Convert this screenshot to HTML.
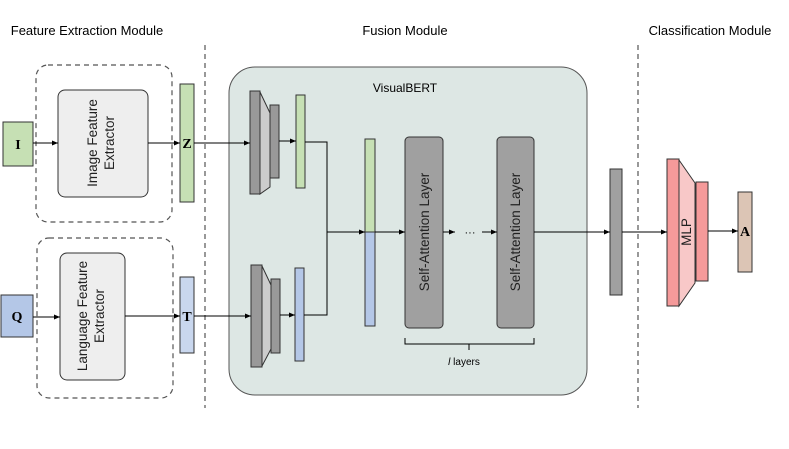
<!DOCTYPE html>
<html><head><style>
body{margin:0;background:#fff}
svg text{font-family:"Liberation Sans",sans-serif}
</style></head><body>
<svg width="789" height="444" viewBox="0 0 789 444" xmlns="http://www.w3.org/2000/svg">
<defs><marker id="a" markerWidth="6" markerHeight="6" refX="6" refY="3" orient="auto" markerUnits="userSpaceOnUse"><path d="M0,0.5L6,3L0,5.5z" fill="#000"/></marker></defs>
<g font-size="13" fill="#000">
<text x="87" y="35" text-anchor="middle">Feature Extraction Module</text>
<text x="405" y="35" text-anchor="middle">Fusion Module</text>
<text x="710" y="35" text-anchor="middle">Classification Module</text>
</g>
<g stroke="#555" stroke-dasharray="5,4" fill="none" stroke-width="1.2">
<line x1="205" y1="45" x2="205" y2="408"/>
<line x1="638" y1="45" x2="638" y2="408"/>
<rect x="36" y="65" width="136" height="157" rx="12"/>
<rect x="37" y="238" width="136" height="160" rx="12"/>
</g>
<rect x="229" y="67" width="358" height="328" rx="26" fill="#dde7e4" stroke="#555"/>
<text x="405" y="92" font-size="12" text-anchor="middle">VisualBERT</text>
<g stroke="#333" stroke-width="1">
<rect x="3" y="122" width="30" height="44" fill="#c6e0b4"/>
<rect x="1" y="295" width="32" height="42" fill="#b4c7e7"/>
<rect x="58" y="90" width="90" height="107" rx="7" fill="#eee"/>
<rect x="60" y="253" width="65" height="127" rx="7" fill="#eee"/>
<rect x="180" y="84" width="14" height="118" fill="#c6e0b4"/>
<rect x="180" y="277" width="14" height="76" fill="#c9d7ee"/>
<polygon points="260,92 270,113 270,187 260,194" fill="#ccc"/>
<rect x="250" y="91" width="10" height="103" fill="#999"/>
<rect x="270" y="105" width="9" height="73" fill="#999"/>
<rect x="296" y="95" width="9" height="93" fill="#c6e0b4"/>
<polygon points="262,266 271,285 271,349 262,366" fill="#ccc"/>
<rect x="251" y="265" width="11" height="102" fill="#999"/>
<rect x="271" y="279" width="9" height="74" fill="#999"/>
<rect x="295" y="268" width="9" height="93" fill="#b4c7e7"/>
<rect x="365" y="139" width="10" height="93" fill="#c6e0b4"/>
<rect x="365" y="232" width="10" height="94" fill="#b4c7e7"/>
<rect x="405" y="137" width="38" height="191" rx="4" fill="#a0a0a0"/>
<rect x="497" y="137" width="37" height="191" rx="4" fill="#a0a0a0"/>
<rect x="610" y="169" width="12" height="126" fill="#a0a0a0"/>
<polygon points="679,160 695,183 695,283 679,306" fill="#f8c8c8"/>
<rect x="667" y="159" width="12" height="147" fill="#f59a9a"/>
<rect x="696" y="182" width="12" height="99" fill="#f59a9a"/>
<rect x="738" y="192" width="14" height="80" fill="#dcc5b5"/>
</g>
<g stroke="#000" fill="none" stroke-width="1">
<line x1="33" y1="143" x2="58" y2="143" marker-end="url(#a)"/>
<line x1="148" y1="143" x2="180" y2="143" marker-end="url(#a)"/>
<line x1="194" y1="143" x2="250" y2="143" marker-end="url(#a)"/>
<line x1="279" y1="141" x2="296" y2="141" marker-end="url(#a)"/>
<line x1="33" y1="317" x2="60" y2="317" marker-end="url(#a)"/>
<line x1="125" y1="316" x2="180" y2="316" marker-end="url(#a)"/>
<line x1="194" y1="316" x2="251" y2="316" marker-end="url(#a)"/>
<line x1="280" y1="315" x2="295" y2="315" marker-end="url(#a)"/>
<polyline points="305,142 327,142 327,315 304,315"/>
<line x1="327" y1="232" x2="365" y2="232" marker-end="url(#a)"/>
<line x1="375" y1="232" x2="405" y2="232" marker-end="url(#a)"/>
<line x1="443" y1="232" x2="455" y2="232" marker-end="url(#a)"/>
<line x1="482" y1="232" x2="497" y2="232" marker-end="url(#a)"/>
<line x1="534" y1="232" x2="610" y2="232" marker-end="url(#a)"/>
<line x1="622" y1="232" x2="667" y2="232" marker-end="url(#a)"/>
<line x1="708" y1="231" x2="738" y2="231" marker-end="url(#a)"/>
<path d="M405,338 V344 H469 V350 M469,344 H534 V338"/>
</g>
<text x="470" y="236" font-size="11" text-anchor="middle">···</text>
<text x="464" y="365" font-size="10" text-anchor="middle"><tspan font-style="italic">l</tspan> layers</text>
<g font-weight="bold" font-size="14" text-anchor="middle">
<text x="18" y="149" style="font-family:'Liberation Serif',serif">I</text>
<text x="17" y="321" style="font-family:'Liberation Serif',serif">Q</text>
<text x="187" y="148" style="font-family:'Liberation Serif',serif">Z</text>
<text x="187" y="321" style="font-family:'Liberation Serif',serif">T</text>
<text x="745" y="236" style="font-family:'Liberation Serif',serif">A</text>
</g>
<g font-size="13.5" text-anchor="middle" fill="#222">
<text transform="translate(97,143) rotate(-90)">Image Feature</text>
<text transform="translate(114,143) rotate(-90)">Extractor</text>
<text transform="translate(87,316) rotate(-90)">Language Feature</text>
<text transform="translate(104,316) rotate(-90)">Extractor</text>
<text transform="translate(429,232) rotate(-90)">Self-Attention Layer</text>
<text transform="translate(520,232) rotate(-90)">Self-Attention Layer</text>
<text transform="translate(691,232) rotate(-90)">MLP</text>
</g>
</svg>
</body></html>
